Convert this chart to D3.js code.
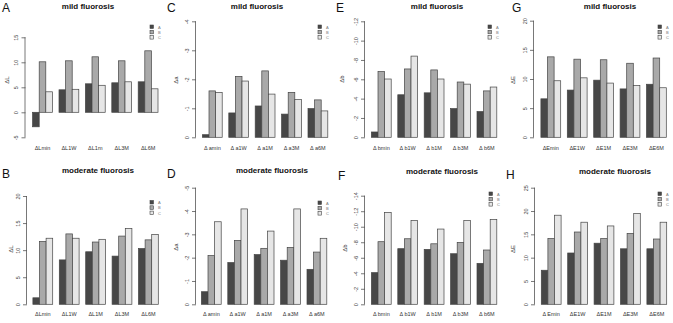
<!DOCTYPE html>
<html><head><meta charset="utf-8">
<script src="https://cdn.jsdelivr.net/npm/d3@7"></script>
<style>body{margin:0;background:#fff}svg{display:block}text{font-family:"Liberation Sans",Arial,sans-serif}</style>
</head><body>
<svg id="c" width="673" height="323"></svg>
<script>
// ---- data ----
const seriesNames = ["A","B","C"];
const catsL_mild = ["ΔLmin","ΔL1W","ΔL1m","ΔL3M","ΔL6M"];
const catsL_mod  = ["ΔLmin","ΔL1W","ΔL1M","ΔL3M","ΔL6M"];
const catsA = ["Δ amin","Δ a1W","Δ a1M","Δ a3M","Δ a6M"];
const catsB = ["Δ bmin","Δ b1W","Δ b1M","Δ b3M","Δ b6M"];
const catsE_mild = ["ΔEmin","ΔE1W","ΔE1M","ΔE3M","ΔE6M"];
const catsE_mod  = ["Δ Emin","ΔE1W","ΔE1M","ΔE3M","ΔE6M"];

// mild fluorosis
const mildL_A = [-2.9, 4.5, 5.7, 5.9, 6.1];
const mildL_B = [10.1, 10.3, 11.1, 10.3, 12.3];
const mildL_C = [4.1, 4.6, 5.4, 6.1, 4.7];
const mildA_A = [0.09, 0.84, 1.08, 0.80, 0.99];
const mildA_B = [1.60, 2.10, 2.29, 1.55, 1.29];
const mildA_C = [1.55, 1.94, 1.49, 1.30, 0.91];
const mildB_A = [0.55, 4.4, 4.6, 2.97, 2.66];
const mildB_B = [6.8, 7.07, 6.97, 5.72, 4.8];
const mildB_C = [6.03, 8.4, 6.03, 5.5, 5.2];
const mildE_A = [6.6, 8.1, 9.8, 8.3, 9.1];
const mildE_B = [13.8, 13.4, 13.3, 12.7, 13.6];
const mildE_C = [9.7, 10.2, 9.3, 8.9, 8.5];
// moderate fluorosis
const modL_A = [1.2, 8.2, 9.7, 8.9, 10.3];
const modL_B = [11.6, 13.0, 11.5, 12.6, 11.9];
const modL_C = [12.2, 12.2, 12.0, 14.0, 12.9];
const modA_A = [0.54, 1.79, 2.13, 1.89, 1.50];
const modA_B = [2.09, 2.74, 2.40, 2.44, 2.24];
const modA_C = [3.54, 4.09, 3.14, 4.09, 2.83];
const modB_A = [4.08, 7.17, 7.08, 6.52, 5.28];
const modB_B = [8.07, 8.45, 7.80, 7.98, 7.00];
const modB_C = [11.85, 10.8, 9.7, 10.8, 10.94];
const modE_A = [7.3, 11.0, 13.1, 11.9, 11.9];
const modE_B = [14.1, 15.5, 14.1, 15.2, 14.0];
const modE_C = [19.1, 17.6, 16.8, 19.5, 17.6];

const ticksL_mild = [-5, 0, 5, 10, 15];
const ticks20 = [0, 5, 10, 15, 20];
const ticks25 = [0, 5, 10, 15, 20, 25];
const ticksA_mild = [0, 1, 2, 3, 4];
const ticksA_mod = [0, 1, 2, 3, 4, 5];
const ticksB_mild = [0, 2, 4, 6, 8, 10, 12];
const ticksB_mod = [0, 2, 4, 6, 8, 10, 12, 14];

// ---- layout ----
const fills = ["#474747", "#a9a9a9", "#e6e6e6"];
const panels = [
  {letter:"A", title:"mild fluorosis", ylab:"ΔL", cats:catsL_mild, vals:[mildL_A,mildL_B,mildL_C], ticks:ticksL_mild, neg:false,
   ax:25.5, y0:137.3, y1:37.3, dom:[-5,15], c0:42.5, lx:2, ly:12, tx:88, ty:9, ylx:7, yly:80, lgx:150, lgy:25, xly:150},
  {letter:"C", title:"mild fluorosis", ylab:"Δa", cats:catsA, vals:[mildA_A,mildA_B,mildA_C], ticks:ticksA_mild, neg:true,
   ax:196, y0:137.3, y1:21.3, dom:[0,4], c0:212.3, lx:167, ly:12, tx:257, ty:9, ylx:176, yly:80, lgx:318, lgy:25, xly:150},
  {letter:"E", title:"mild fluorosis", ylab:"Δb", cats:catsB, vals:[mildB_A,mildB_B,mildB_C], ticks:ticksB_mild, neg:true,
   ax:365, y0:137.3, y1:21.3, dom:[0,12], c0:381.3, lx:336, ly:12, tx:437, ty:9, ylx:342, yly:79, lgx:488, lgy:25, xly:150},
  {letter:"G", title:"mild fluorosis", ylab:"ΔE", cats:catsE_mild, vals:[mildE_A,mildE_B,mildE_C], ticks:ticks20, neg:false,
   ax:534, y0:137.3, y1:20.7, dom:[0,20], c0:550.8, lx:512, ly:12, tx:610, ty:9, ylx:513, yly:80, lgx:658, lgy:25, xly:150},
  {letter:"B", title:"moderate fluorosis", ylab:"ΔL", cats:catsL_mod, vals:[modL_A,modL_B,modL_C], ticks:ticks20, neg:false,
   ax:27, y0:304.3, y1:196, dom:[0,20], c0:42.8, lx:2, ly:178, tx:98, ty:173, ylx:11, yly:249, lgx:150, lgy:200.5, xly:316},
  {letter:"D", title:"moderate fluorosis", ylab:"Δa", cats:catsA, vals:[modA_A,modA_B,modA_C], ticks:ticksA_mod, neg:true,
   ax:196, y0:304.3, y1:187.7, dom:[0,5], c0:211.3, lx:167, ly:178, tx:272, ty:173, ylx:176, yly:247, lgx:318, lgy:201, xly:316},
  {letter:"F", title:"moderate fluorosis", ylab:"Δb", cats:catsB, vals:[modB_A,modB_B,modB_C], ticks:ticksB_mod, neg:true,
   ax:365, y0:304.3, y1:195.7, dom:[0,14], c0:381.3, lx:338, ly:180, tx:442, ty:174, ylx:345, yly:248, lgx:489, lgy:192, xly:316},
  {letter:"H", title:"moderate fluorosis", ylab:"ΔE", cats:catsE_mod, vals:[modE_A,modE_B,modE_C], ticks:ticks25, neg:false,
   ax:535, y0:304.3, y1:187.7, dom:[0,25], c0:551.2, lx:506, ly:179, tx:615, ty:174, ylx:513, yly:249, lgx:658, lgy:192, xly:316}
];
const pitch = 26.4;

const svg = d3.select("#c");

panels.forEach(p => {
  const g = svg.append("g");
  const y = d3.scaleLinear().domain(p.dom).range([p.dom[0] < 0 ? p.y1 + (p.y0 - p.y1) * (1 - (0 - p.dom[0]) / (p.dom[1] - p.dom[0])) + (p.y0 - p.y1) * ((0 - p.dom[0]) / (p.dom[1] - p.dom[0])) : p.y0, p.y1]);
  // y0 is the bottom of the axis (first tick)
  const yScale = d3.scaleLinear().domain(p.dom).range([p.y0, p.y1]);
  const start = p.c0 - pitch / 2;
  const x = d3.scaleBand().domain(p.cats).range([start, start + 5 * pitch]).paddingInner(0.25).paddingOuter(0.125);
  const xs = d3.scaleBand().domain(seriesNames).range([0, x.bandwidth()]);

  // axis
  const axis = d3.axisLeft(yScale).tickValues(p.ticks).tickSize(4).tickPadding(2)
    .tickFormat(d => (p.neg && d !== 0) ? "-" + d : String(d));
  const ag = g.append("g").attr("transform", `translate(${p.ax},0)`).call(axis);
  ag.select(".domain").attr("d", `M-0.5,${yScale(p.ticks[0])}V${yScale(p.ticks[p.ticks.length-1])}`).attr("stroke", "#555").attr("stroke-width", 0.8);
  ag.selectAll(".tick line").attr("stroke", "#555").attr("stroke-width", 0.8);
  ag.selectAll(".tick text")
    .attr("font-size", 5.5).attr("fill", "#444").attr("font-family", "Liberation Sans, Arial, sans-serif")
    .attr("x", null).attr("dy", null)
    .attr("text-anchor", "middle")
    .attr("transform", "translate(-7.5,0) rotate(-90)");

  // bars
  const zero = yScale(0);
  p.cats.forEach((c, i) => {
    seriesNames.forEach((s, k) => {
      const v = p.vals[k][i];
      const yv = yScale(v);
      g.append("rect")
        .attr("x", x(c) + xs(s))
        .attr("y", Math.min(yv, zero))
        .attr("width", xs.bandwidth())
        .attr("height", Math.abs(zero - yv))
        .attr("fill", fills[k])
        .attr("stroke", "#444").attr("stroke-width", 0.7);
    });
    g.append("text").attr("x", x(c) + x.bandwidth() / 2).attr("y", p.xly)
      .attr("text-anchor", "middle").attr("font-size", 5.5).attr("fill", "#333").text(c);
  });

  // titles
  g.append("text").attr("x", p.tx).attr("y", p.ty).attr("text-anchor", "middle")
    .attr("font-size", 8).attr("font-weight", "bold").attr("fill", "#111").text(p.title);
  g.append("text").attr("x", p.lx).attr("y", p.ly).attr("font-size", 12).attr("fill", "#111").text(p.letter);
  g.append("text").attr("transform", `translate(${p.ylx + 2},${p.yly}) rotate(-90)`)
    .attr("text-anchor", "middle").attr("font-size", 6).attr("fill", "#333").text(p.ylab);

  // legend
  seriesNames.forEach((s, k) => {
    g.append("rect").attr("x", p.lgx).attr("y", p.lgy + k * 5.3).attr("width", 3.5).attr("height", 3.5)
      .attr("fill", fills[k]).attr("stroke", "#444").attr("stroke-width", 0.6);
    g.append("text").attr("x", p.lgx + 8).attr("y", p.lgy + k * 5.3 + 3.5)
      .attr("font-size", 4).attr("fill", "#777").text(s);
  });
});
</script>
</body></html>
